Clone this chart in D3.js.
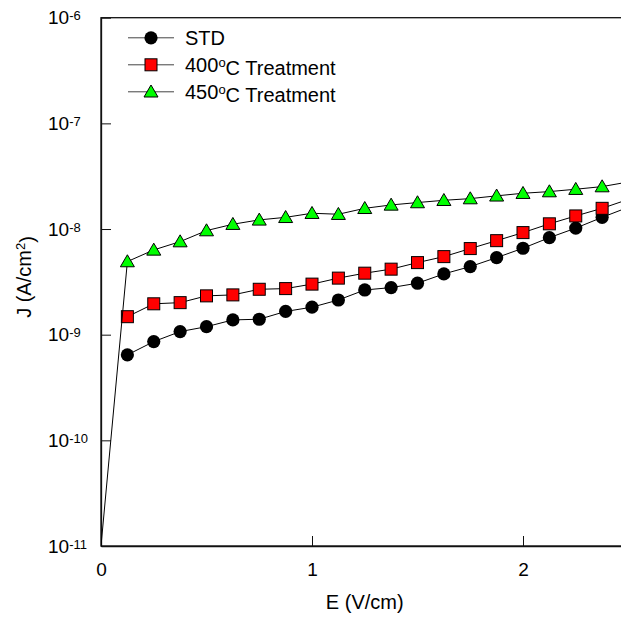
<!DOCTYPE html>
<html><head><meta charset="utf-8">
<script src="https://cdn.jsdelivr.net/npm/d3@7"></script>
<style>html,body{margin:0;padding:0;background:#fff;} svg{display:block;font-family:"Liberation Sans",Arial,sans-serif;}</style>
</head><body>
<svg id="chart" width="621" height="619"></svg>
<script>
// ---- data ----
const xVals = [0.125,0.25,0.375,0.5,0.625,0.75,0.875,1,1.125,1.25,1.375,1.5,1.625,1.75,1.875,2,2.125,2.25,2.375,2.5];
const stdVals = [6.44e-10,8.6e-10,1.07e-9,1.19e-9,1.38e-9,1.40e-9,1.66e-9,1.82e-9,2.13e-9,2.65e-9,2.79e-9,3.07e-9,3.76e-9,4.41e-9,5.36e-9,6.58e-9,8.29e-9,1.02e-8,1.29e-8,1.61e-8];
const t400Vals = [1.48e-9,1.96e-9,2.01e-9,2.33e-9,2.38e-9,2.69e-9,2.73e-9,3.01e-9,3.43e-9,3.82e-9,4.17e-9,4.81e-9,5.48e-9,6.53e-9,7.76e-9,9.25e-9,1.12e-8,1.33e-8,1.57e-8,1.91e-8];
const x450 = [0,0.125,0.25,0.375,0.5,0.625,0.75,0.875,1,1.125,1.25,1.375,1.5,1.625,1.75,1.875,2,2.125,2.25,2.375,2.5];
const t450Vals = [1e-11,4.92e-9,6.34e-9,7.60e-9,9.66e-9,1.11e-8,1.22e-8,1.29e-8,1.41e-8,1.38e-8,1.57e-8,1.69e-8,1.78e-8,1.87e-8,1.94e-8,2.06e-8,2.18e-8,2.26e-8,2.38e-8,2.52e-8,2.79e-8];
const seriesNames = ["STD", "400", "450"];
const xTicks = [0, 1, 2];
const yTickExps = [-6, -7, -8, -9, -10, -11];

// ---- layout ----
const L = 101, R = 628.5, T = 17.7, B = 546;
const svg = d3.select("#chart");
const x = d3.scaleLinear().domain([0, 2.5]).range([L, R]);
const y = d3.scaleLog().domain([1e-11, 1e-6]).range([B, T]);

svg.append("defs").append("clipPath").attr("id","clip")
  .append("rect").attr("x", L).attr("y", T).attr("width", R - L).attr("height", B - T);

// frame
svg.append("rect").attr("x", L).attr("y", T).attr("width", R - L).attr("height", B - T)
  .attr("fill","none").attr("stroke","#111").attr("stroke-width",1.3);

// axes
const yAxis = d3.axisLeft(y).tickValues(yTickExps.map(e => Math.pow(10, e)))
  .tickSizeInner(-10).tickSizeOuter(0).tickPadding(11).tickFormat(() => "");
const gy = svg.append("g").attr("transform", `translate(${L},0)`).call(yAxis);
gy.select(".domain").attr("stroke","#111").attr("stroke-width",1.3);
gy.selectAll(".tick line").attr("stroke","#111").attr("stroke-width",1);
gy.selectAll(".tick text").each(function(d) {
  const t = d3.select(this).attr("font-size", 19).attr("font-family", "Liberation Sans, Arial, sans-serif")
    .attr("fill","#000").attr("text-anchor","start").attr("x", 48 - L);
  t.text("");
  t.append("tspan").text("10");
  t.append("tspan").attr("dy","-0.3em").attr("font-size", 13).text(String(Math.round(Math.log10(d))));
});

const xAxis = d3.axisBottom(x).tickValues(xTicks).tickSizeInner(-10).tickSizeOuter(0).tickPadding(17).tickFormat(d3.format("d"));
const gx = svg.append("g").attr("transform", `translate(0,${B})`).call(xAxis);
gx.select(".domain").attr("stroke","#111").attr("stroke-width",1.3);
gx.selectAll(".tick line").attr("stroke","#111").attr("stroke-width",1);
gx.selectAll(".tick text").attr("font-size", 19).attr("font-family", "Liberation Sans, Arial, sans-serif").attr("fill","#000");

// axis titles
svg.append("text").attr("x", (L + R) / 2).attr("y", 609).attr("text-anchor","middle")
  .attr("font-size", 20).text("E (V/cm)");
const yl = svg.append("text").attr("transform", "translate(31,277) rotate(-90)").attr("text-anchor","middle").attr("font-size", 20);
yl.append("tspan").text("J (A/cm");
yl.append("tspan").attr("dy","-0.45em").attr("font-size", 13).text("2");
yl.append("tspan").attr("dy","0.45em").text(")");

// series
const line = d3.line().x(d => x(d[0])).y(d => y(d[1]));
const plot = svg.append("g").attr("clip-path","url(#clip)");

const sStd = xVals.map((v,i) => [v, stdVals[i]]);
const s400 = xVals.map((v,i) => [v, t400Vals[i]]);
const s450 = x450.map((v,i) => [v, t450Vals[i]]);

const triPath = "M0,-6.8 L7,5.2 L-7,5.2 Z";

function drawMarker(g, kind, cx, cy) {
  if (kind === "circle") g.append("circle").attr("cx", cx).attr("cy", cy).attr("r", 6.6).attr("fill","#000");
  else if (kind === "square") g.append("rect").attr("x", cx - 6).attr("y", cy - 6).attr("width", 12).attr("height", 12)
      .attr("fill","#ff0000").attr("stroke","#000").attr("stroke-width",1);
  else g.append("path").attr("d", triPath).attr("transform", `translate(${cx},${cy})`)
      .attr("fill","#00ff00").attr("stroke","#000").attr("stroke-width",1);
}

[[sStd,"circle"],[s400,"square"],[s450,"triangle"]].forEach(([data, kind]) => {
  const g = plot.append("g");
  g.append("path").datum(data).attr("d", line).attr("fill","none").attr("stroke","#000").attr("stroke-width",1);
  data.filter(d => d[0] > 0).forEach(d => drawMarker(g, kind, x(d[0]), y(d[1])));
});

// legend
const legendRows = [
  {kind:"circle", label:["STD"]},
  {kind:"square", label:["400","o","C Treatment"]},
  {kind:"triangle", label:["450","o","C Treatment"]}
];
legendRows.forEach((r, i) => {
  const cy = 37.8 + i * 27;
  svg.append("line").attr("x1", 128).attr("x2", 174).attr("y1", cy).attr("y2", cy).attr("stroke","#444").attr("stroke-width",1);
  drawMarker(svg, r.kind, 151, cy);
  const t = svg.append("text").attr("x", 185).attr("y", cy + 7.2).attr("font-size", 20);
  t.append("tspan").text(r.label[0]);
  if (r.label.length > 1) {
    t.append("tspan").attr("dy","-0.37em").attr("font-size", 13).text(r.label[1]);
    t.append("tspan").attr("dy","0.37em").text(r.label[2]);
  }
});
</script>
</body></html>
